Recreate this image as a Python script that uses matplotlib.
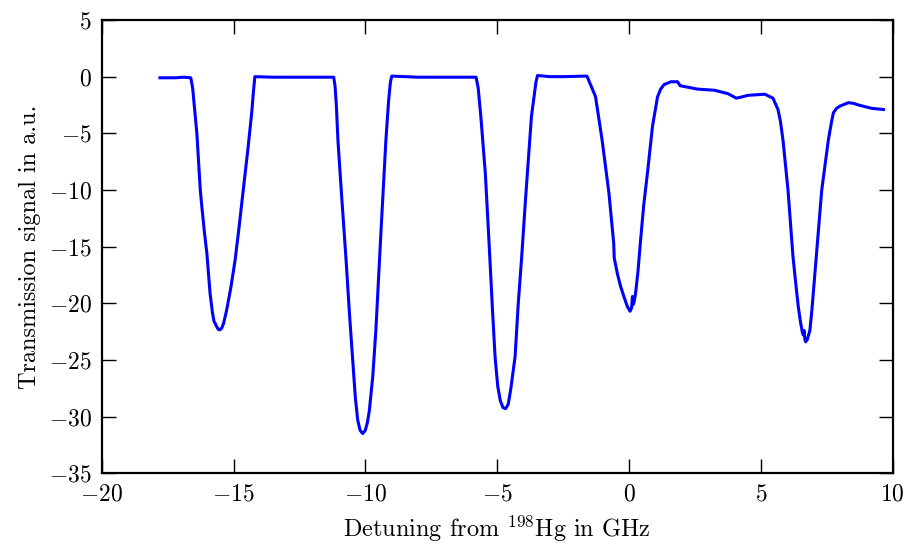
import numpy as np
import matplotlib
matplotlib.use('Agg')
import matplotlib.pyplot as plt

plt.rcParams['font.family'] = 'serif'
plt.rcParams['font.serif'] = ['cmr10']
plt.rcParams['mathtext.fontset'] = 'cm'
plt.rcParams['axes.formatter.use_mathtext'] = True
plt.rcParams['axes.unicode_minus'] = True

# detuning in GHz, transmission signal in a.u.
detuning = [-17.79, -17.2, -16.9, -16.62, -16.55, -16.47, -16.39, -16.26, -16.2, -16.1,
            -16.01, -15.89, -15.8, -15.74, -15.7, -15.65, -15.58, -15.52, -15.45, -15.38,
            -15.26, -15.1, -14.94, -14.8, -14.63, -14.45, -14.31, -14.24, -14.19, -13.5,
            -12.5, -11.5, -11.2, -11.15, -11.1, -11.04, -10.9, -10.73, -10.6, -10.48,
            -10.38, -10.29, -10.2, -10.1, -10.0, -9.92, -9.85, -9.72, -9.6, -9.41,
            -9.22, -9.12, -9.05, -9.0, -8.0, -7.0, -5.8, -5.72, -5.62, -5.45,
            -5.3, -5.18, -5.08, -4.98, -4.88, -4.78, -4.68, -4.58, -4.48, -4.32,
            -4.2, -4.07, -3.93, -3.81, -3.7, -3.62, -3.53, -3.47, -3.0, -2.5,
            -1.6, -1.55, -1.27, -1.02, -0.76, -0.58, -0.56, -0.44, -0.32, -0.18,
            -0.06, 0.04, 0.1, 0.13, 0.16, 0.2, 0.25, 0.34, 0.44, 0.56,
            0.7, 0.89, 1.08, 1.2, 1.33, 1.59, 1.84, 1.94, 2.6, 3.24,
            3.75, 4.07, 4.26, 4.51, 5.15, 5.46, 5.65, 5.74, 5.84, 6.03,
            6.22, 6.34, 6.42, 6.5, 6.57, 6.61, 6.64, 6.67, 6.7, 6.76,
            6.86, 6.94, 7.05, 7.31, 7.56, 7.68, 7.75, 7.87, 8.0, 8.32,
            8.5, 8.7, 9.21, 9.65]
signal = [-0.1, -0.1, -0.05, -0.1, -1.0, -3.0, -5.0, -10.0, -11.5, -13.8,
          -15.6, -19.1, -20.8, -21.6, -21.75, -22.0, -22.3, -22.35, -22.2, -21.8,
          -20.6, -18.6, -16.2, -13.5, -10.0, -6.3, -3.2, -1.2, 0.0, -0.05,
          -0.05, -0.05, -0.05, -0.8, -2.5, -5.6, -10.5, -16.2, -21.0, -25.0,
          -28.3, -30.3, -31.2, -31.5, -31.2, -30.5, -29.5, -26.5, -22.35, -13.8,
          -5.6, -2.2, -0.5, 0.05, -0.05, -0.05, -0.05, -1.0, -3.5, -8.5,
          -15.0, -20.5, -24.7, -27.3, -28.6, -29.2, -29.3, -28.9, -27.5, -24.7,
          -20.0, -15.9, -11.0, -7.1, -3.5, -2.1, -0.5, 0.1, 0.0, 0.0,
          0.05, -0.2, -1.76, -5.6, -10.3, -14.7, -16.0, -17.4, -18.5, -19.5,
          -20.3, -20.7, -20.4, -19.4, -20.1, -19.8, -19.1, -17.2, -14.4, -11.3,
          -8.5, -4.4, -1.8, -1.1, -0.7, -0.45, -0.45, -0.8, -1.1, -1.2,
          -1.5, -1.9, -1.8, -1.65, -1.55, -1.9, -2.9, -3.9, -5.6, -10.0,
          -15.9, -18.6, -20.3, -21.6, -22.5, -22.8, -22.4, -23.2, -23.4, -23.2,
          -22.4, -20.5, -17.4, -10.0, -5.6, -4.0, -3.2, -2.8, -2.6, -2.3,
          -2.35, -2.5, -2.8, -2.9]

fig = plt.figure(figsize=(9.07, 5.46), dpi=100)
ax = fig.add_axes([0.1121, 0.1332, 0.8721, 0.8302])
ax.plot(detuning, signal, color='b', lw=2.2)

ax.set_xlim(-20, 10)
ax.set_ylim(-35, 5)
ax.set_xticks(np.arange(-20, 11, 5))
ax.set_yticks(np.arange(-35, 6, 5))
ax.tick_params(direction='in', length=10, width=1, top=True, right=True,
               labelsize=17, pad=7)
for s in ax.spines.values():
    s.set_linewidth(1.6)

ax.set_xlabel(r'Detuning from $^{198}$Hg in GHz', fontsize=17.5, labelpad=6)
ax.set_ylabel('Transmission signal in a.u.', fontsize=17.5, labelpad=6)

fig.savefig('out.png', dpi=100)
